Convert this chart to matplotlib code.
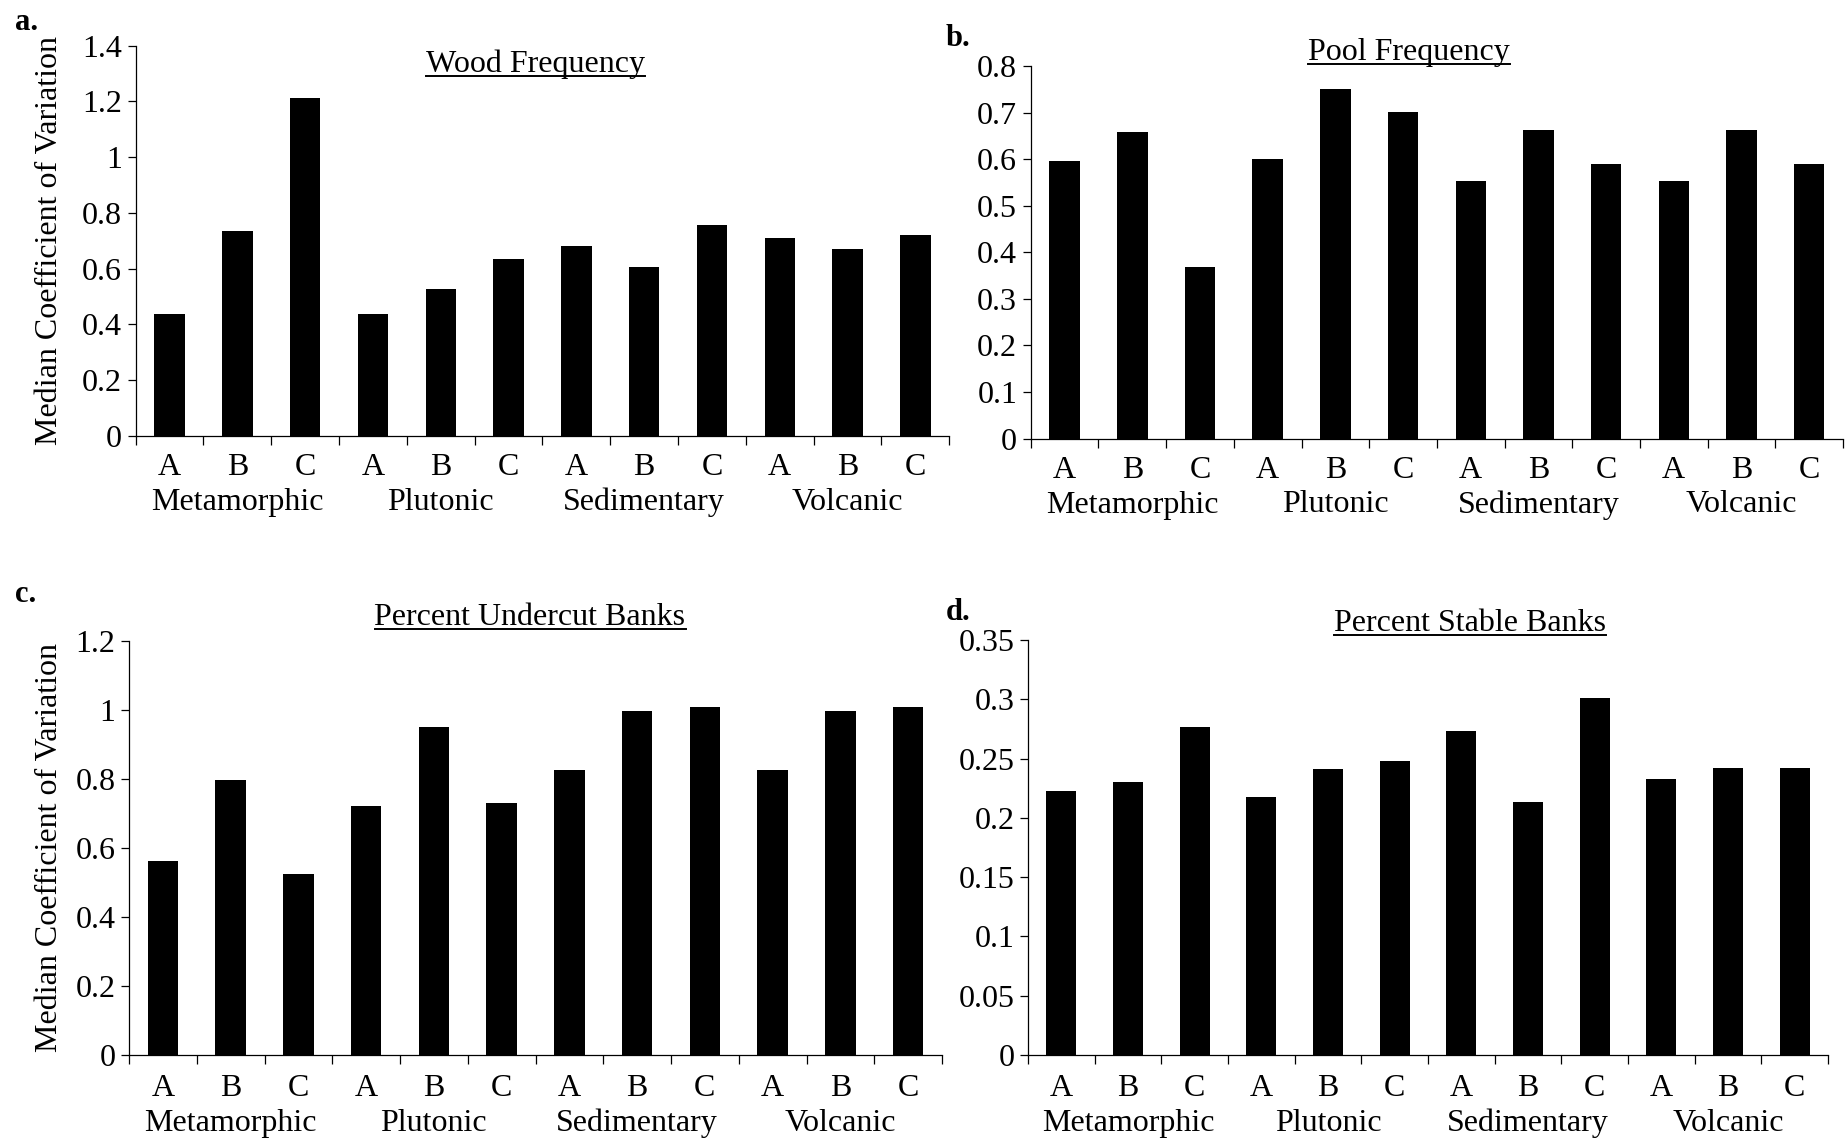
import matplotlib
matplotlib.use("Agg")
import matplotlib.pyplot as plt
from matplotlib.transforms import offset_copy
from matplotlib.lines import Line2D

plt.rcParams['font.family'] = ['Liberation Serif', 'DejaVu Serif']

W, H = 1846, 1139
DPI = 100

# ---------------- data ----------------
rock_types = ["Metamorphic", "Plutonic", "Sedimentary", "Volcanic"]
classes = ["A", "B", "C"]

wood_freq = [0.436, 0.734, 1.213, 0.436, 0.528, 0.634, 0.680, 0.606, 0.756, 0.710, 0.671, 0.719]
pool_freq = [0.597, 0.659, 0.368, 0.601, 0.750, 0.701, 0.554, 0.663, 0.589, 0.554, 0.663, 0.589]
undercut_banks = [0.563, 0.796, 0.526, 0.723, 0.950, 0.729, 0.825, 0.998, 1.009, 0.825, 0.998, 1.009]
stable_banks = [0.223, 0.2305, 0.277, 0.218, 0.241, 0.248, 0.2735, 0.213, 0.301, 0.233, 0.242, 0.242]

yticks_a = [0, 0.2, 0.4, 0.6, 0.8, 1.0, 1.2, 1.4]
ylabels_a = ["0", "0.2", "0.4", "0.6", "0.8", "1", "1.2", "1.4"]
yticks_b = [0, 0.1, 0.2, 0.3, 0.4, 0.5, 0.6, 0.7, 0.8]
ylabels_b = ["0", "0.1", "0.2", "0.3", "0.4", "0.5", "0.6", "0.7", "0.8"]
yticks_c = [0, 0.2, 0.4, 0.6, 0.8, 1.0, 1.2]
ylabels_c = ["0", "0.2", "0.4", "0.6", "0.8", "1", "1.2"]
yticks_d = [0, 0.05, 0.1, 0.15, 0.2, 0.25, 0.3, 0.35]
ylabels_d = ["0", "0.05", "0.1", "0.15", "0.2", "0.25", "0.3", "0.35"]

titles = ["Wood Frequency", "Pool Frequency", "Percent Undercut Banks", "Percent Stable Banks"]
letters = ["a.", "b.", "c.", "d."]
ylabel_text = "Median Coefficient of Variation"

# ---------------- layout (pixels) ----------------
# (left, right, y of zero, y of top tick)
boxes = [
    (135.7, 949.3, 435.6, 45.7),
    (1030.8, 1843.0, 438.5, 66.0),
    (129.0, 942.0, 1055.0, 641.0),
    (1028.0, 1828.0, 1055.0, 640.0),
]
title_base = [(535, 72), (1409, 60), (530, 625), (1470, 631)]
letter_pos = [(27, 23), (958, 38), (26, 595), (958, 612)]
ylabel_pos = [(49.5, 240.5), None, (49.5, 848), None]
pads = [12.5, 12.5, 13.5, 13.5]
group_off = [-74, -74, -76, -76]

panels = [
    (wood_freq, yticks_a, ylabels_a),
    (pool_freq, yticks_b, ylabels_b),
    (undercut_banks, yticks_c, ylabels_c),
    (stable_banks, yticks_d, ylabels_d),
]

FS = 23

fig = plt.figure(figsize=(W / DPI, H / DPI), dpi=DPI)
fig.patch.set_facecolor("white")

title_artists = []
n = len(rock_types) * len(classes)
xs = list(range(n))
for i, (vals, yt, ytl) in enumerate(panels):
    l, r, y0, yt_px = boxes[i]
    ax = fig.add_axes([l / W, 1 - y0 / H, (r - l) / W, (y0 - yt_px) / H])
    ax.bar(xs, vals, width=0.45, color="black", edgecolor="none")
    ax.set_xlim(-0.5, n - 0.5)
    ax.set_ylim(yt[0], yt[-1])
    ax.set_yticks(yt)
    ax.set_yticklabels(ytl, fontsize=FS)
    ax.set_xticks(xs)
    ax.set_xticklabels(classes * len(rock_types), fontsize=FS)
    ax.set_xticks([k - 0.5 for k in range(n + 1)], minor=True)
    ax.tick_params(axis="x", which="major", length=0, pad=pads[i])
    ax.tick_params(axis="x", which="minor", length=6.5, width=0.9, direction="out")
    ax.tick_params(axis="y", which="major", length=5.8, width=0.9, direction="out", pad=4)
    for s in ("top", "right"):
        ax.spines[s].set_visible(False)
    for s in ("left", "bottom"):
        ax.spines[s].set_linewidth(0.9)
    ax.set_facecolor("none")
    tr = offset_copy(ax.get_xaxis_transform(), fig=fig, y=group_off[i], units="dots")
    for g, name in enumerate(rock_types):
        ax.text(g * 3 + 1, 0, name, transform=tr, ha="center", va="baseline", fontsize=FS)

    tx, ty = title_base[i]
    t = fig.text(tx / W, 1 - ty / H, titles[i], ha="center", va="baseline", fontsize=FS)
    title_artists.append((t, ty))
    lx, ly = letter_pos[i]
    fig.text(lx / W, 1 - ly / H, letters[i], ha="center", va="center", fontsize=22, fontweight="bold")
    if ylabel_pos[i] is not None:
        px, py = ylabel_pos[i]
        fig.text(px / W, 1 - py / H, ylabel_text, rotation=90, ha="center", va="center", fontsize=FS)

# underline titles
fig.canvas.draw()
renderer = fig.canvas.get_renderer()
for t, ty in title_artists:
    bb = t.get_window_extent(renderer=renderer)
    yline = 1 - (ty + 4) / H
    fig.add_artist(Line2D([bb.x0 / W, bb.x1 / W], [yline, yline], transform=fig.transFigure,
                          color="black", linewidth=1.4))

fig.savefig("out.png", dpi=DPI, facecolor="white")
